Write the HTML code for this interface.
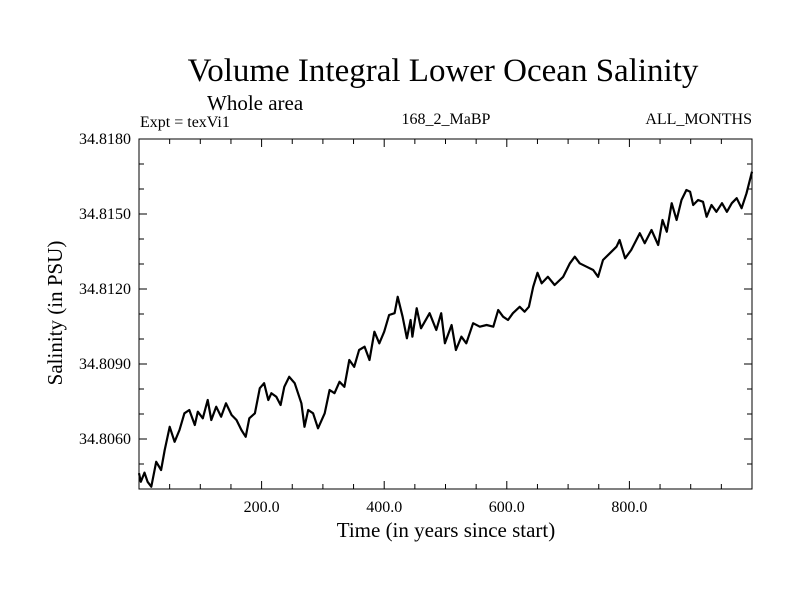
<!DOCTYPE html>
<html><head><meta charset="utf-8"><style>
html,body{margin:0;padding:0;background:#fff;}
svg{display:block;font-family:"Liberation Serif",serif;}
</style></head><body>
<svg id="chart" width="800" height="600" viewBox="0 0 800 600">
<rect width="800" height="600" fill="#fff"/>
<text x="443" y="81" font-size="33" text-anchor="middle">Volume Integral Lower Ocean Salinity</text>
<text x="207" y="110" font-size="21">Whole area</text>
<text x="140" y="127" font-size="16">Expt = texVi1</text>
<text x="446" y="124" font-size="16" text-anchor="middle">168_2_MaBP</text>
<text x="752" y="124" font-size="16" text-anchor="end">ALL_MONTHS</text>
<text x="446" y="537" font-size="21" text-anchor="middle">Time (in years since start)</text>
<text transform="translate(62,313) rotate(-90)" font-size="21" text-anchor="middle">Salinity (in PSU)</text>
<g id="ticks"></g>
<path id="series" fill="none" stroke="#000" stroke-width="2.2" stroke-linejoin="round"/>
<rect x="139" y="139" width="613" height="350" fill="none" stroke="#000" stroke-width="1"/>
</svg>
<script>
const years=[0,3,9,14,20,28,36,42,50,58,66,74,82,91,96,104,112,118,126,134,142,151,159,167,174,180,189,197,204,211,216,224,231,237,245,254,265,270,276,284,292,303,311,319,327,335,343,351,359,368,376,384,392,400,408,417,422,430,437,443,446,453,460,474,485,493,499,510,517,526,534,545,556,567,578,586,594,602,610,621,629,636,643,650,657,667,678,692,703,711,719,730,741,749,757,768,779,784,793,803,817,825,836,847,854,861,869,877,885,893,899,904,912,920,926,934,942,951,959,967,975,983,991,1000];
const salinity=[34.80463,34.80429,34.80465,34.80429,34.80409,34.80509,34.80476,34.80556,34.80649,34.80589,34.80636,34.80703,34.80716,34.80656,34.80709,34.80683,34.80756,34.80676,34.80729,34.80689,34.80743,34.80696,34.80676,34.80636,34.80609,34.80683,34.80703,34.80803,34.80823,34.80756,34.80783,34.80769,34.80736,34.80809,34.80849,34.80823,34.80743,34.80649,34.80716,34.80703,34.80643,34.80703,34.80796,34.80783,34.80829,34.80809,34.80916,34.80889,34.80956,34.80969,34.80916,34.81029,34.80983,34.81029,34.81096,34.81103,34.81169,34.81089,34.81003,34.81076,34.81009,34.81123,34.81043,34.81103,34.81036,34.81103,34.80983,34.81056,34.80956,34.81009,34.80983,34.81063,34.81049,34.81056,34.81049,34.81116,34.81089,34.81076,34.81103,34.81129,34.81109,34.81129,34.81209,34.81265,34.81223,34.81249,34.81216,34.81249,34.81303,34.81329,34.81303,34.81289,34.81276,34.81249,34.81316,34.81343,34.81369,34.81396,34.81323,34.81356,34.81423,34.81383,34.81436,34.81376,34.81476,34.81429,34.81543,34.81476,34.81556,34.81596,34.81589,34.81536,34.81556,34.81549,34.81489,34.81536,34.81509,34.81543,34.81509,34.81543,34.81563,34.81523,34.81583,34.81669];
const xMajor=[200,400,600,800];
const xMajorLabels=["200.0","400.0","600.0","800.0"];
const yMajor=[34.806,34.809,34.812,34.815,34.818];
const yMajorLabels=["34.8060","34.8090","34.8120","34.8150","34.8180"];
const X0=139,X1=752,Y0=489,Y1=139,XMIN=0,XMAX=1000,YMIN=34.804,YMAX=34.818;
const sx=v=>X0+(v-XMIN)/(XMAX-XMIN)*(X1-X0);
const sy=v=>Y0-(v-YMIN)/(YMAX-YMIN)*(Y0-Y1);
const NS="http://www.w3.org/2000/svg";
const g=document.getElementById('ticks');
function line(x1,y1,x2,y2,name){const l=document.createElementNS(NS,'line');l.setAttribute('x1',x1);l.setAttribute('y1',y1);l.setAttribute('x2',x2);l.setAttribute('y2',y2);l.setAttribute('stroke','#000');l.setAttribute('stroke-width','1');


g.appendChild(l);}
function text(x,y,s,anchor,name){const t=document.createElementNS(NS,'text');t.setAttribute('x',x);t.setAttribute('y',y);t.setAttribute('font-size','16');t.setAttribute('text-anchor',anchor);t.textContent=s;


g.appendChild(t);}
for(let v=50;v<XMAX;v+=50){const x=sx(v);const major=v%200===0;const L=major?8:5;
line(x,Y0,x,Y0-L,'x-tick');line(x,Y1,x,Y1+L,'x-tick-top');}
xMajor.forEach((v,i)=>text(sx(v),512,xMajorLabels[i],'middle','x-tick-label'));
for(let k=1;k<14;k++){const v=YMIN+k*0.001;const y=sy(v);const major=(k%3===2);const L=major?8:5;
line(X0,y,X0+L,y,'y-tick');line(X1,y,X1-L,y,'y-tick-right');}
yMajor.forEach((v,i)=>text(131,sy(v)+5,yMajorLabels[i],'end','y-tick-label'));
let d='';years.forEach((t,i)=>{d+=(i?'L':'M')+sx(t).toFixed(1)+','+sy(salinity[i]).toFixed(1);});
document.getElementById('series').setAttribute('d',d);
</script>
</body></html>
